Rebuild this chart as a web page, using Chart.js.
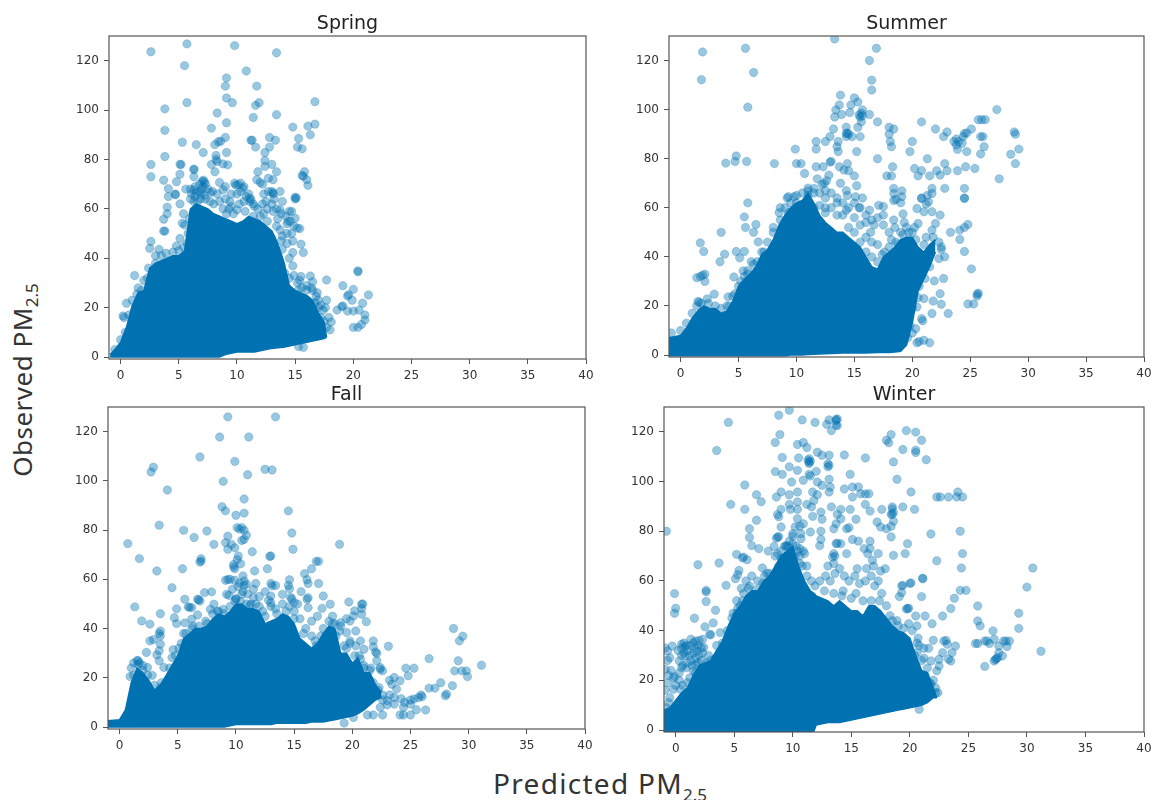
<!DOCTYPE html>
<html>
<head>
<meta charset="utf-8">
<title>Predicted vs observed PM2.5</title>
<script src="https://cdn.jsdelivr.net/npm/chart.js@4"></script>
<style>
    html, body { margin: 0; padding: 0; background: #fff; width: 1151px; height: 800px; overflow: hidden; }
    canvas { position: absolute; filter: blur(0.55px); }
    .axis-label { position: absolute; font-family: "Noto Sans", sans-serif; color: #333; white-space: nowrap; line-height: 1; }
    .axis-label sub { font-size: 17px; line-height: 0; letter-spacing: 0; }
    #label-y { left: 22px; top: 380px; font-size: 26px; letter-spacing: 0.5px; transform: translate(-50%, -50%) rotate(-90deg); }
    #label-x { left: 600px; top: 783px; font-size: 28px; letter-spacing: 1.3px; transform: translate(-50%, -50%); }
</style>
</head>
<body>
<canvas id="chart-spring"></canvas>
<canvas id="chart-summer"></canvas>
<canvas id="chart-fall"></canvas>
<canvas id="chart-winter"></canvas>
<div class="axis-label" id="label-y">Observed PM<sub>2.5</sub></div>
<div class="axis-label" id="label-x">Predicted PM<sub>2.5</sub></div>

<script>
const springMassX = [-0.9,-0.5,0,0.5,1,1.5,2,2.5,3,3.5,4,4.5,5,5.5,6,6.5,7,7.5,8,8.5,9,9.5,10,10.5,11,11.5,12,12.5,13,13.5,14,14.5,15,15.5,16,16.5,17,17.5,17.7];
const springMassTop = [1,3,6,12,21,26,27,36,38,39,40,41,41,43,60,62,61,60,58,57,56,55,54,55,57,56,55,53,51,46,39,29,27,26,25,23,18,14,8];
const springMassLow = [0,0,0,0,0,0,0,0,0,0,0,0,0,0,0,0,0,0,0,0,1,1.5,2,2,2,2,2.5,3,3.5,3.8,4,4.5,5,5.5,6,6.5,7,7.5,8];

const summerMassX = [-1,0,0.5,1,1.5,2,2.5,3,3.5,4,4.5,5,5.5,6,6.5,7,7.5,8,8.5,9,9.5,10,10.5,11,11.5,12,12.5,13,13.5,14,14.5,15,15.5,16,16.5,17,17.5,18,18.5,19,19.5,20,20.5,21,21.5,22];
const summerMassTop = [7,8,11,15,18,20,19,19,17,18,22,28,31,33,36,41,43,47,53,57,60,62,63,66,62,57,54,52,50,50,48,46,44,40,36,35,40,42,44,47,48,48,44,42,45,47];
const summerMassLow = [-0.3,-0.3,-0.3,-0.3,-0.3,-0.3,-0.3,-0.3,-0.3,-0.3,-0.3,-0.3,-0.3,-0.3,-0.3,-0.3,-0.3,-0.3,-0.3,-0.3,0,0,0,0.2,0.3,0.4,0.5,0.6,0.7,0.8,0.8,0.8,0.8,0.8,0.9,1,1,1,1.2,1.5,4,13,26,31,36,42];

const fallMassX = [-1,0,0.5,1,1.5,2,2.5,3,3.5,4,4.5,5,5.5,6,6.5,7,7.5,8,8.5,9,9.5,10,10.5,11,11.5,12,12.5,13,13.5,14,14.5,15,15.5,16,16.5,17,17.5,18,18.5,19,19.5,20,20.5,21,21.5,22,22.5];
const fallMassTop = [2.5,3,7,18,24,22,19,15,17,21,25,29,36,38,40,40,41,44,46,45,47,50,50,48,48,47,42,43,44,46,45,42,36,34,32,34,38,41,40,30,30,26,28,22,22,17,14];
const fallMassLow = [0,0,0,0,0,0,0,0,0,0,0,0,0,0,0,0,0,0,0,0,0.5,1,1,1,1,1,1,1,1.5,1.5,1.5,1.5,1.5,1.5,2,2,2,2.5,3,3.5,4,4.5,5.5,7,9,11,12];

const winterMassX = [-1,-0.5,0,0.5,1,1.5,2,2.5,3,3.5,4,4.5,5,5.5,6,6.5,7,7.5,8,8.5,9,9.5,10,10.5,11,11.5,11.8,12,12.5,13,13.5,14,14.5,15,15.5,16,16.5,17,17.5,18,18.5,19,19.5,20,20.5,21,21.5,22,22.3];
const winterMassTop = [8,9,12,15,17,22,26,27,28,32,36,42,47,50,54,56,56,60,62,66,70,72,74,66,60,56,55,54,53,52,50,52,50,48,48,46,50,50,48,45,42,40,39,37,30,24,23,17,13];
const winterMassLow = [-0.5,-0.5,-0.5,-0.5,-0.5,-0.5,-0.5,-0.5,-0.5,-0.5,-0.5,-0.5,-0.5,-0.5,-0.5,-0.5,-0.5,-0.5,-0.5,-0.5,-0.5,-0.5,-0.5,-0.5,-0.5,-0.5,-0.5,2,2.5,3,3,3,3.5,4,4.5,5,5.5,6,6.5,7,7.5,8,8.5,9,9.5,10,11,13,13];

// single points, read one by one (repeats are where the picture shows a darker blob)
const springPoints = [
    [2.6,123.6],[5.7,126.8],[9.8,126.1],[13.4,123.2],[5.5,118],[10.8,115.8],[9.1,113],[9,109.7],[11.7,109.7],[9.1,104.9],
    [9.6,103],[11.9,103],[11.6,101.9],[5.7,103],[3.8,100.5],[16.7,103.4],[8.3,98.8],[13.4,98.1],[11.4,97],[9.1,94.9],
    [7.8,92.7],[3.8,91.8],[14.8,93.1],[16.1,93.5],[16.7,94.3],[16.3,90],[9,88.9],[12.8,88.9],[15.3,88.5],[13.3,87.8],
    [11.2,87.8],[11.3,87.8],[5.3,87],[8.6,87.4],[8.4,87.2],[8.1,86],[6.5,86],[11.6,85],[12.8,85],[15.2,85],[15.6,84.3],
    [7.1,82.8],[9.1,82.8],[12.4,82.8],[3.8,81.2],[8.2,81.6],[12.4,79.6],[8.3,79.2],[8.2,80],[8.8,78.2],[9.2,77.8],[2.6,78],
    [5.2,78],[5.1,78],[13,78],[6.3,76.1],[6.3,75.9],[7.8,78],[12.4,77.2],[8.1,75],[5.1,74],[11.8,75],[13.4,75],[15.8,75],
    [15.6,73.5],[15.7,73.2],[2.6,73],[3.7,71.6],[4.8,71],[6.3,73],[7.1,71.6],[7.2,71],[16,71.8],[16.1,69.5],[11.7,71.8],
    [12.7,72.4],[13.1,71.8],[12,70.7],[12.2,70],[9.8,70.4],[10.3,70.4],[10.1,69.8],[9.9,69.6],[10.5,68.4],[10.6,69],[8.5,70.7],
    [4.1,68.2],[4.7,66],[5.6,68],[6.3,67.7],[6.8,67],[7.1,69],[7,68],[6.5,66.5],[6.9,66],[7.2,65.5],[6.1,66],[7.7,66.6],
    [8.8,67.7],[13,67],[13.1,66.4],[13.7,67],[15,64.7],[15.1,64.4],[15,64],[11.1,64.3],[11.2,63.8],[4.1,65],[4.7,65.7],
    [4,60.7],[4,58],[3.7,55.8],[3.8,51],[3.7,51],[5.1,62],[5.4,58],[5.3,54.2],[5.5,53.5],[5.1,48],[4.8,45],[5.4,44.5],
    [2.6,46.8],[2.5,44],[3.3,43.6],[3.9,42],[3,41],[1.2,33],[0.5,21.8],[0.2,16.6],[0.3,16],[2,31],[1.5,28],[14.8,47],
    [15.5,45.7],[15.2,52.2],[15.4,52],[15,56.2],[14.8,42.3],[15.7,42.3],[14.8,36.9],[13.9,43.6],[13.8,37.3],[14.1,34],
    [14.5,31.9],[15.5,32.6],[16.3,32.8],[16.5,30.5],[17.7,31.2],[20.4,34.9],[20.4,34.5],[19.1,28.9],[20,27.4],[19.5,24.7],
    [19.6,25.2],[21.3,25.1],[19.9,23],[20.8,21.8],[17.7,23],[19.1,20.7],[19,20.4],[18.6,19],[19.5,18.6],[20,18.6],[20.5,19],
    [21,17],[21,15],[20.7,13.2],[20,12],[20.4,12],[18.1,14.2],[17.5,14.4],[15.7,3.9],[15.3,4.2],[16.8,24.6],[16,27.2],
    [15.3,27.2],[15.2,30],[15.6,28],[16.5,27],[16.7,22],[13.7,51.5],[14.3,50],[14.4,55],[14.7,59],[14.5,59],[13.1,59],
    [13.7,59.6],[12.5,63],[11.1,63],[9.4,63],[8.8,60],[9.1,58],[9.5,61],[10,59.6],[13.1,66],[6.6,63],[6.3,63],[12,57],
    [11.5,61],[10.7,59],[12.6,55],[13.4,53],[13,48],[13.8,47],[3,38],[3.5,41],[4.5,42.5],[5,43],[2.4,36],[2.3,32],[1.8,27],
    [1,23],[1.4,25.5],[0.7,17],[0.4,10],[0,7],[-0.5,3],[17,20],[17.4,19],[16.5,18],[17.7,12],[17.2,16],[16,23]
];
const springLace = [
    [6,68],[6.4,69],[6.8,70],[7,71],[7.3,70],[7.5,68],[7.9,67],[8.3,66],[6,64],[6.4,65],[6.9,64],[7.3,64],[7.7,63],[8,62],[8.5,63],[9,64],
    [9.3,60],[9.7,58],[10.2,62],[10.6,63],[11,66],[11.4,62],[11.8,60],[12.2,62],[12.6,60],[13,62],[13.4,60],[13.8,58],[14.2,57],[14.6,55],
    [14.9,53],[12.3,66],[12.7,67],[13.2,64],[13.9,63],[14.3,54],[14.7,50],[13.5,56],[11.4,57],[12.3,58],[10,66],[9.5,66],[9,69],[10.8,65],
    [10.3,67],[6.2,58],[6.6,60],[5.9,56],[5.8,50],[5.7,46],[14.3,46],[14.5,40],[13.9,49],[14.9,33],[15.4,31],[16,29],[16.4,28],[16.9,26],
    [17,23],[17.2,21],[17.6,20],[17.9,16],[18,11]
];

const summerPoints = [
    [1.9,123.5],[5.6,125],[13.3,128.8],[16.9,125],[16.3,120],[6.3,115.1],[1.8,112.2],[16.5,112],[16.5,108],[13.8,105.9],
    [15,104.8],[13.7,101.9],[15.3,103.1],[14.7,101.9],[5.8,101],[13.4,99.9],[27.3,100],[15.7,99.9],[14.6,98.8],[13.9,98],
    [13.3,97],[15.4,97.8],[15.6,98.5],[15.5,97],[15.7,97.5],[16.3,98],[25.7,95.9],[26.3,95.9],[26,95.9],[17,95],[20.8,95],
    [15.6,95],[15.3,92.8],[13.2,92.1],[14.3,92.8],[14.4,90.5],[14.5,90],[18,92.8],[18.4,92.1],[22,92.1],[23,90.9],[25.1,92.1],
    [28.8,90.9],[28.9,90],[18,90],[14.3,90.3],[14.3,89],[14.8,89],[15.5,89],[12.9,89],[22.7,89],[24.5,90.3],[24.4,89],[24.7,90.5],
    [25.9,89],[26.1,89],[11.7,87],[12.5,87],[13.6,87],[18.1,87],[20,87],[23.6,87],[24,87],[23.8,88],[24.3,86.3],[23.8,85.6],
    [18.2,84.9],[13.5,84.9],[9.9,83.9],[11.7,83.9],[26.2,84.9],[29.2,83.9],[23.9,83.8],[24.7,82.9],[13.6,82.9],[15.2,82.9],
    [19.8,82.9],[25.9,81.9],[28.5,81.8],[4.8,81.1],[17,80],[21.3,80],[5.7,78.9],[4.7,78.9],[3.9,78.2],[8.1,78],[10,78],[10.4,78],
    [13,78.9],[12.9,78.6],[14.4,78],[22.8,78],[28.9,78],[11.7,76.7],[12.3,76.7],[18.3,76.7],[24.6,76.7],[25.4,76],[13.7,76.7],
    [20.2,76],[20.8,75.1],[22.1,75.1],[23,75.1],[23.9,75.1],[10.7,74],[14.1,75.4],[14.5,75.1],[15,73],[17.8,73],[18.2,73],
    [20.5,73],[21.5,73],[22.4,73.3],[11.8,71.8],[12.8,73.3],[27.5,71.8],[12.4,70],[12.2,69.5],[12.6,71],[15.2,69],[13.8,70],
    [18.4,67.9],[21.7,67.9],[22.8,67.9],[24.5,67.9],[19.1,66.9],[11,66.9],[11.5,67.9],[12.5,67],[14.3,67],[18.4,65.8],[21.7,65.8],
    [21.3,65],[9.3,64.5],[9.8,64.5],[14.4,65],[15.1,64.5],[15.7,64],[24.5,64],[20.8,64],[19.1,64.5],[18.4,63],[19,62],[18.6,63.5],
    [21.4,62.4],[21.2,61.5],[5.8,62],[5.5,56.3],[5.6,52],[6.5,53.2],[6.3,50],[3.5,50],[6.7,46.1],[1.7,45.7],[2,42.2],[4.8,42.2],
    [5.5,42.2],[5.1,39.6],[3.8,41.1],[3.4,38],[6.1,38],[5.4,34.3],[5.8,34.5],[4.6,31.8],[2.1,32.9],[1.4,31.5],[1.7,32],[1.9,32.5],
    [2.1,30],[2.9,24.8],[4.1,23.7],[2.3,22.9],[1.5,21.8],[1.6,21.5],[23.3,50],[24.1,47.1],[24.5,42.2],[25.1,35.1],[24.8,53.2],
    [24.5,52],[24.1,50.9],[25.6,24.8],[25.6,24],[25.7,25.2],[24.8,20.8],[25.3,20.8],[23.1,16.9],[22.5,20.7],[22.4,25],[22.7,31.2],
    [21.9,30.2],[21.7,16.9],[21.8,22],[21,23],[20.5,23.4],[20.4,19.6],[20,19.3],[20.8,14.8],[20.9,14],[20.3,10.7],[21,6],[21.5,5],
    [20.4,5],[20.6,5.5],[19.4,8],[18.8,7.4],[17.8,4.4],[18.8,15.5],[19.4,15.5],[21.1,31.2],[20.3,30.5],[21.5,36],[22.3,39.3],
    [22.8,40],[22.5,44],[24.5,63.8],[20.5,53.6],[21,58.4],[21.7,58.4],[22.4,57],[20.4,59.7],[20.8,63.8],[21.7,50.9],[22,53.6],
    [19.3,54],[18.4,55],[19.2,57.5],[17.5,57],[17.1,61],[17.5,60.5],[16.3,59],[15.4,60],[16,57],[16.7,53],[16.4,50],[14.3,59],
    [13.5,62],[12.5,60],[11,65],[10,62],[9.3,58],[8.6,55],[8,50],[7.5,46],[7,42],[6.3,37],[5.5,32],[5,28],[4.5,24],[4,20],
    [17.4,41],[18,44],[18.6,46],[19.2,49],[19.7,50],[20.3,47],[21,45],[21.8,48],[22.3,46],[22.5,43],[19.6,26],[20.3,28],[19.8,18]
];
const summerLace = [
    [11,68],[11.5,66],[12,66],[12.5,64],[13,66],[13.5,64],[14,62],[14.5,60],[15,62],[15.5,60],[12,61],[13,60],[14,57],[15,56],[15.5,53],
    [16,54],[16.5,55],[17,56],[17.5,53],[18,50],[18.5,52],[19,50],[19.5,52],[20,50],[16,48],[16.5,46],[17,45],[15.5,46],[15,50],[14.5,52],
    [16.5,40],[17,38],[16,42],[17.6,42],[18.2,47],[18.8,45],[12.5,58],[11.5,60],[13.5,57],[10.5,66],[10,65],[9.5,62],[9,60],[8.5,58],[8,52],
    [8.6,60],[9.2,64],[20.2,52],[21.2,48],[20.8,40],[21.5,42],[20.2,35],[20.6,28],[20,24],[19.8,12],[20,9],[19.6,7],[-0.8,9],[0,10],[0.5,13],
    [1,17],[1.4,20],[1.8,21],[2.4,21],[3,20],[3.5,19],[4.2,20],[4.7,25],[5.2,30],[5.8,33],[6.6,38],[7.2,42]
];

const fallPoints = [
    [9.3,126],[13.4,126],[8.6,117.8],[11.1,117.8],[6.9,109.7],[9.9,107.9],[2.9,105.5],[2.7,103.6],[12.5,104.7],[13.1,104.4],
    [11,102.5],[8.9,99.8],[4.1,96.3],[10.7,92.6],[8.8,89.5],[9.1,87.8],[14.5,87.8],[10.7,86.9],[10,86],[3.4,82],[10.1,81],
    [10.5,81],[10.3,80.4],[10.7,79.9],[5.5,79.9],[7.5,79.6],[14.8,78.8],[10.9,77.9],[6.4,77],[9.3,77.5],[10.7,76.2],[10.5,75.8],
    [0.7,74.5],[9.1,74.9],[8.1,74.2],[9.6,74.2],[18.9,74.2],[9.9,72.8],[9.3,72.2],[14.9,72.2],[11.4,71.2],[13,69.5],[12.9,69.3],
    [10.2,69.5],[10.1,68],[1.7,68.4],[7,68.4],[6.9,67],[7,67.4],[16.9,67.3],[17.1,67.3],[10.4,66.3],[9.8,66],[9.9,64.3],[9.8,65],
    [3.2,63.4],[5.4,64.3],[12.7,64.3],[16.5,64.3],[11.6,63.4],[15.9,62.3],[10.6,61.4],[9.1,59.6],[9.5,60],[9.3,59.9],[9.9,59.6],
    [10.7,59.3],[10.3,58.5],[10.9,58],[14.6,59.8],[16.1,59.8],[16.2,58.3],[17.1,58.3],[11.7,58.3],[13,58.3],[13.1,57.4],[13.4,57.5],
    [10.7,57.5],[14.5,57.5],[4.5,56.6],[14.6,56.2],[1.3,48.8],[3.5,46],[1.9,43.1],[2.6,41.8],[4.7,44.4],[4.9,48],[5.6,51.9],[6.7,51.9],
    [6.9,51.2],[6.8,51.7],[7.3,54.6],[7.9,54.9],[5.9,48.8],[6.2,48.5],[6,48.6],[4.9,42],[5.6,42.3],[6.2,43.8],[6.7,45.5],[8.1,49.9],
    [7.8,47.8],[8.9,47.8],[9.2,53.9],[9.9,51.2],[10,52],[9.4,53.5],[10.5,53.9],[11.5,52.6],[11.3,50],[13,50.5],[13,53.2],[12.8,51.5],
    [14,53.9],[14.7,52.6],[14.8,52],[15,50.5],[15.6,55],[16.1,51.9],[16.2,52.5],[17.5,53.2],[18.1,49.9],[17.4,48.2],[16.2,48.5],
    [19.7,50.8],[20.8,49.9],[20.9,50],[20.8,48.1],[20.2,47.2],[20.8,45.8],[20.1,45.1],[21.2,42.8],[19.8,43.1],[19,42.4],[20.3,39],
    [19.5,38.4],[20.7,35],[19.8,35],[19.8,34],[21.8,35],[21.8,32.6],[22.1,29.9],[22,30.5],[23.1,32.8],[21,31.6],[20.7,27.6],[22.1,26.9],
    [22.4,24.2],[22.6,22.8],[22.4,23.5],[26.6,27.8],[24.6,23.9],[25.3,23.9],[24.8,20.8],[24.1,18.8],[23.6,20.1],[23.4,17.4],[23.2,19],
    [23.8,15.4],[28.7,40],[29.5,36.9],[29.2,35],[29.1,26.9],[28.8,22.8],[29.4,22.8],[29.8,22.8],[31.1,25.1],[29.9,20.5],[28.6,16.8],
    [27.6,18],[27.1,15.8],[26.6,15.8],[28.1,13.4],[28,12.7],[26,12.3],[25.7,12],[25.9,13],[25.3,11.4],[25,9.3],[26.3,6.9],[25.5,7],
    [25,4.9],[24.4,4.9],[24.1,4.9],[24.4,8],[23.6,9.3],[22.6,4.9],[21.8,4.9],[21.3,4.9],[19.3,1.6],[20.1,3.9],[22.4,8],[23,10.7],[23.6,12],
    [24.5,10],[24.2,11.5],[25,11],[3.5,33.6],[3.4,31],[3.5,39],[3.5,37],[3.4,38],[2.6,35],[2.9,35.5],[2.3,30.3],[3.2,29.3],[3.4,26.9],
    [4.6,31.4],[4.5,28.2],[1.6,26.9],[1.6,25.5],[0.9,20.5],[3.5,16],[3.8,24.2],[2.4,24.2],[1.2,21],[2,25],[2.8,21],[5.1,32],[5.5,38],
    [6.3,41],[7.5,42],[8.5,47],[10.4,51],[11.2,49.5],[12,49],[12.5,45],[13.5,46],[14.3,47],[15,44],[15.8,38],[16.8,35],[17.5,40],
    [18.3,42],[18.9,39],[19.5,32],[20.2,29],[21,25],[21.6,24],[18,36],[18.6,37],[17.6,30],[16.3,27],[18.5,24],[19.2,22],[19.6,26],
    [20.5,24],[21.5,19],[22.6,13],[23.2,13],[22.2,15]
];
const fallLace = [
    [1,24],[1.2,26],[1.5,27],[1.7,26],[2,23],[2.4,21],[3,17],[3.6,18],[4.3,24],[4.8,29],[5.3,34],[5.7,38],[6.2,40],[6.8,41],[7.4,43],[8,46],
    [8.4,47],[9,46],[9.5,49],[10,52],[10.6,55],[11,54],[11.5,56],[12,53],[12.5,55],[13,49],[13.4,48],[14,50],[14.6,49],[15,47],[15.5,44],[16,40],
    [16.5,37],[16.9,33],[17.3,37],[18,43],[18.5,42],[19,41],[19.3,33],[20.3,33],[20.6,29],[21,24],[21.5,23],[21.8,18],[22.3,16],[22.6,11],[23,9],
    [9.7,56],[10.2,57],[10.9,50],[11.7,50],[12.3,47],[15.3,50],[16.5,43],[17,45],[19.5,44],[18.3,45]
];

const winterPoints = [
    [4.5,123.8],[8.8,126.7],[9.7,128.7],[8.9,118.9],[10.8,124.8],[11.9,123.8],[13.1,124.8],[13.7,125],[13.8,125.2],[13.7,124.5],
    [13.7,122.7],[13.8,122.5],[12.9,123],[13.3,120.5],[8.5,115.7],[10.4,114.9],[10.9,115.7],[3.5,112.5],[18.4,118.9],[18,116.6],
    [18.2,115.6],[19.7,120.5],[20.5,119.9],[21,116.6],[19.4,112.9],[20.5,112.6],[20.5,111.7],[21.4,108.8],[18.6,107.9],[14.4,110.7],
    [16.2,109.5],[9.1,109.7],[10.5,109.5],[11.2,113.7],[12.1,111.8],[12.5,110.6],[13.1,110.6],[11.4,109.2],[11.3,108.5],[11.4,107.8],
    [11.4,107.2],[11.5,108.2],[9.7,105.9],[10.4,104.5],[8.5,104],[9.1,102.9],[13,107.2],[13,105.9],[13.1,106.5],[11.4,102.9],[11.5,102.2],
    [12,104.1],[14.9,102.9],[18.9,100.9],[9.9,99.8],[10.9,100.5],[13.1,100.9],[12.1,99.8],[5.9,98.6],[12.5,98.5],[13.2,97.8],[15.1,97.8],
    [15.6,97.8],[14.4,97],[9,95.8],[10.4,95.8],[11.7,95.8],[13.1,95.8],[20.1,95.8],[24.1,95.8],[15.8,95.1],[16.5,95.1],[16.2,95],[6.9,94.7],
    [9.7,94.7],[12.1,94.7],[22.3,93.8],[22.6,93.8],[23.3,93.8],[24,93.8],[24.5,93.8],[8.6,93.8],[15.1,93.8],[7.3,91.9],[10.4,91.8],[11.8,92.4],
    [4.7,90.8],[9.7,90.8],[11.2,90.8],[16.2,90.8],[11.6,89.8],[18.5,89.8],[18.5,89],[19.4,89.8],[5.9,88.8],[9,88.8],[9.8,88.8],[10.4,88.8],
    [13.3,89.8],[14.1,88.8],[14.9,88.8],[16.6,88.1],[17.6,88.8],[20.4,88.8],[18.6,87.5],[18.5,86.8],[8.7,86.7],[8.8,85.8],[12.4,87.7],[13.8,86.8],
    [18.4,86.8],[11.7,86],[6.9,84.4],[10.4,85],[12.5,84.8],[15.4,84.8],[14.1,85],[17.2,83.7],[18.6,84],[10.9,83],[10.2,81.7],[10.6,82],[13.5,81],
    [14.8,81.4],[14.6,81],[17.5,81.7],[18.4,82],[18,81],[9,81.7],[6.3,81],[12.4,80],[24.3,80],[13.7,83],[21.8,78.9],[10.7,79],[11.5,79.7],
    [-0.8,80],[10,79],[10,78],[10.7,77],[8.7,77.7],[8.6,77.2],[8.8,77.8],[6.3,77.5],[12.4,76.7],[15.1,76.7],[15.6,76],[16.6,76],[18.4,77.7],
    [13.7,75],[13.8,75.2],[14.1,75],[12.3,74.2],[6.5,74.2],[7.1,73],[19.8,75],[16.1,73],[16.6,73],[9.5,74.2],[9.4,74],[9.6,73.8],[7.9,72],[8.4,73.9],
    [8.7,71],[24.5,71],[5.2,70.7],[5.7,69.2],[5.8,69.6],[6.1,68.5],[13.5,71],[13.4,69.6],[13.6,70],[14.6,71],[17.3,71],[18.6,70.3],[19.6,71],
    [16.4,71],[16.8,68.3],[22.3,68.1],[1.9,66.5],[3.7,67.2],[10.4,72],[10.9,72],[10.6,70],[7.4,65.2],[5.4,64.2],[5.1,60.9],[5.3,62.5],[7.8,63.1],[24.4,65.2],
    [30.5,65.2],[17.9,64.9],[15.5,64.9],[21.1,61.1],[20.1,59.2],[19.4,58.2],[4.3,58.2],[2.6,56.2],[30,57.5],[24.3,56.2],[24.8,56.2],[-0.1,54.9],
    [2.6,55.6],[2.6,51.7],[3.4,48.2],[0,49],[-0.1,47],[1.6,45],[2.5,41.5],[3.2,43.1],[3,38.3],[2.9,38.5],[3.8,39.2],[19.1,53.7],[19.3,55.3],[19.3,58],
    [20,59],[21.1,60.9],[21,53.7],[19.8,48.9],[19.7,48.7],[19.9,49],[20.5,45.9],[21.3,45.9],[21.9,42.8],[19.9,42.8],[20.6,41.9],[22.8,45.9],[23.5,48.9],
    [23.8,53],[25.8,49.9],[29.3,47],[29.3,40.9],[25.8,43.9],[26,41.9],[27.1,39.9],[31.2,31.7],[25.6,34.8],[25.8,34.8],[26.4,35.8],[26.6,35.8],[26.8,34.8],
    [27.2,36.5],[28,35.8],[28.2,35.8],[28.5,35.8],[28.3,33.6],[27.6,33.8],[27.6,31.1],[27.9,29.8],[27.5,29.1],[27.4,28.7],[27.3,28.4],[27.2,27.8],[26.4,25.6],
    [22,36.1],[22.9,35.8],[23.2,34.5],[23.1,36],[23.9,33.8],[23.6,31.1],[22.8,31.1],[23.3,28.5],[22.5,28.5],[23.5,27.8],[22.5,25.8],[22.3,23.8],[21.8,27.8],
    [21.2,28.9],[21.2,32.9],[21.6,32.9],[20.6,31.1],[22.2,15],[21.8,18.4],[20.8,8.3],[-0.2,21],[-0.1,21.5],[-0.9,24.4],[-0.5,29.1],[-0.3,33.8],[-0.9,33],
    [0.5,34.5],[0.7,35],[0.8,33.5],[1.3,36.5],[1.7,35.8],[1.5,35],[2.3,36.5],[2,36],[2.4,33.2],[0.7,31.1],[0.5,30],[1,32],[1.2,30],[0.3,27.8],[0.5,25.1],
    [0.6,26],[-0.7,31.8],[-0.7,28],[1.8,31.8],[1.5,31],[2,30],[2.2,28],[2.8,30],[3,28],[3.3,26.5],[1.7,26.4],[1.9,27],[2.4,25.1],[3.1,25.1],[1.5,23.8],
    [1.7,23],[2.2,22.5],[2.7,23],[-0.2,16.4],[0.4,16.4],[-0.5,13],[2,21],[1.8,17.7],[0.6,18],[1,19],[-0.8,9],[-0.6,11],[4,35],[4.4,40],[4.8,45],[5.3,49],
    [5.7,52],[6.3,58],[6.9,56.5],[7.4,59],[8,63],[8.8,66],[9.2,68],[9.8,67],[10.6,67],[11.2,62],[11.9,58],[12.7,56],[13.5,55],[14.2,54],[15,53],[16,52],
    [16.7,52],[17.4,52],[18.3,46],[18.9,44],[19.5,41],[20.2,40],[20.7,37],[20.8,34],[21,28],[21.5,25],[22,20],[22.4,15]
];
const winterLace = [
    [8.5,70],[9,72],[9.3,74],[9.7,76],[10,75],[10.3,74],[10.6,73],[11,71],[9,69],[9.5,70],[10.2,70],[10.8,66],[11.2,66],[11.6,60],[12.3,60],[12.8,62],
    [13.2,60],[13.6,63],[14,65],[14.4,62],[14.8,60],[15.3,62],[15.7,59],[16.2,60],[16.7,62],[17,58],[17.3,60],[17.6,55],[13,66],[13.5,67],[16.3,65],
    [16.9,66],[17.5,64],[14.3,56],[15.4,55],[18,50],[18.5,44],[19,42],[7,60],[7.6,62],[6.5,62],[6,60],[5.6,57],[5.8,55],[6.2,57],[5.2,52],[5.5,50],
    [4.9,47],[5.2,47],[21.3,22],[21.7,19],[22.2,17],[20.6,35],[20.4,30],[0.2,32],[0.5,33],[0.9,34],[1.2,34],[1.6,33],[1.9,34],[2.2,33],[0.8,30],[1.3,28],
    [1.7,29],[2.3,31],[2.6,27],[1.4,26],[0.9,25],[1,27],[0.3,23],[-0.4,24],[-0.6,22],[0,18],[0.3,20],[1.2,21],[2.5,21],[3,22],[3.5,23],[2.2,19],[3.4,29],
    [3.7,31],[3.5,34],[-0.9,16],[-0.7,19]
];

const panelTitles = ['Spring', 'Summer', 'Fall', 'Winter'];
const canvasIds = ['chart-spring', 'chart-summer', 'chart-fall', 'chart-winter'];
const massX = [springMassX, summerMassX, fallMassX, winterMassX];
const massTop = [springMassTop, summerMassTop, fallMassTop, winterMassTop];
const massLow = [springMassLow, summerMassLow, fallMassLow, winterMassLow];
const pointLists = [springPoints.concat(springLace), summerPoints.concat(summerLace), fallPoints.concat(fallLace), winterPoints.concat(winterLace)];

// plot rectangles on the page: left, top, right, bottom
const plotBoxes = [
    [109, 36, 586, 359],
    [669, 36, 1144, 357],
    [108, 407, 585, 729],
    [664, 407, 1144, 732]
];
const xTicksMax = 40;
const yAxisWidth = 44;
const titleSpace = 36;
const xAxisHeight = 30;
const inkColor = '#333';
const dotFill = 'rgba(0, 114, 178, 0.40)';
const dotEdge = 'rgba(0, 114, 178, 0.30)';
const massColor = '#0072b2';

// matplotlib style closed frame round the plot
const framePlugin = {
    id: 'frame',
    afterDraw(chart) {
        const a = chart.chartArea;
        const ctx = chart.ctx;
        ctx.save();
        ctx.strokeStyle = '#555';
        ctx.lineWidth = 1.2;
        ctx.strokeRect(a.left, a.top, a.right - a.left, a.bottom - a.top);
        ctx.restore();
    }
};

function zipMass(xs, ys) {
    return xs.map((x, i) => ({ x: x, y: ys[i] }));
}

function buildPanel(i) {
    const box = plotBoxes[i];
    const canvas = document.getElementById(canvasIds[i]);
    const w = box[2] - box[0] + yAxisWidth * 2;
    const h = box[3] - box[1] + titleSpace + xAxisHeight;
    canvas.style.left = (box[0] - yAxisWidth) + 'px';
    canvas.style.top = (box[1] - titleSpace) + 'px';
    canvas.width = w;
    canvas.height = h;
    canvas.style.width = w + 'px';
    canvas.style.height = h + 'px';

    new Chart(canvas.getContext('2d'), {
        type: 'scatter',
        data: {
            datasets: [
                {
                    data: zipMass(massX[i], massTop[i]),
                    showLine: true, fill: '+1', pointRadius: 0, order: 3,
                    borderColor: massColor, borderWidth: 1.5, backgroundColor: massColor
                },
                {
                    data: zipMass(massX[i], massLow[i]),
                    showLine: true, fill: false, pointRadius: 0, order: 2,
                    borderColor: massColor, borderWidth: 1.5
                },
                {
                    data: pointLists[i].map(p => ({ x: p[0], y: p[1] })),
                    order: 1, pointRadius: 4.2, borderWidth: 0.8,
                    backgroundColor: dotFill, borderColor: dotEdge
                }
            ]
        },
        options: {
            responsive: false,
            animation: false,
            plugins: {
                legend: { display: false },
                tooltip: { enabled: false },
                title: {
                    display: true,
                    text: panelTitles[i],
                    color: '#222',
                    font: { family: 'DejaVu Sans', size: 19, weight: 'normal', lineHeight: 1.2 },
                    padding: { top: 13, bottom: 0.2 }
                }
            },
            scales: {
                x: {
                    type: 'linear', min: -1, max: xTicksMax,
                    afterFit(s) { s.height = xAxisHeight; },
                    grid: { drawOnChartArea: false, tickLength: 5, tickColor: '#555' },
                    border: { display: false },
                    ticks: { stepSize: 5, includeBounds: false, maxRotation: 0, autoSkip: false, padding: 5, color: inkColor, font: { family: 'DejaVu Sans', size: 12 } }
                },
                y: {
                    type: 'linear', min: -0.8, max: 130,
                    afterFit(s) { s.width = yAxisWidth; },
                    grid: { drawOnChartArea: false, tickLength: 5, tickColor: '#555' },
                    border: { display: false },
                    ticks: { stepSize: 20, includeBounds: false, autoSkip: false, padding: 5, color: inkColor, font: { family: 'DejaVu Sans', size: 12 } }
                },
                // empty right axis, keeps the title centred over the plot
                spacer: {
                    type: 'linear', position: 'right', display: true,
                    afterFit(s) { s.width = yAxisWidth; },
                    grid: { display: false },
                    border: { display: false },
                    ticks: { display: false }
                }
            }
        },
        plugins: [framePlugin]
    });
}

window.onload = () => panelTitles.forEach((t, i) => buildPanel(i));
</script>
</body>
</html>
